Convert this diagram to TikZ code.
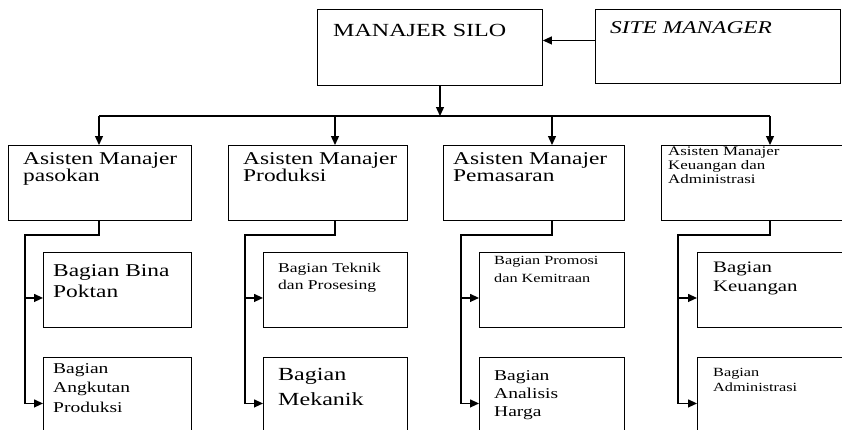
\documentclass[tikz,border=0pt]{standalone}
\usepackage{fontspec}
\setmainfont{Liberation Serif}[FakeStretch=1.3]
\usetikzlibrary{arrows.meta}
\tikzset{
  box/.style={draw, line width=0.9pt, inner sep=0pt, anchor=north west, minimum height=75},
  txt/.style={anchor=north west, inner sep=0pt, align=left},
  line/.style={line width=1.3pt},
  arr/.style={line width=1.3pt, -{Triangle[length=9pt,width=8pt]}}
}
\newcommand{\fs}[2]{\fontsize{#1}{#2}\selectfont}
\begin{document}
\begin{tikzpicture}[x=1pt, y=-1pt]
    \useasboundingbox (0, 0) rectangle (842, 429);
    \clip (0, 0) rectangle (842, 429);

    \node [box, minimum width=225, minimum height=76] (ms) at (317, 9) {};
    \node [box, minimum width=245, minimum height=74] (sm) at (595, 9) {};
    \node [txt, font=\fs{18.5}{20}] (mst) at ([shift={(16, 15)}]ms.north west) {MANAJER SILO};
    \node [txt, font=\fs{18}{20}\itshape] (smt) at ([shift={(15, 12.5)}]sm.north west) {SITE MANAGER};

    \node [box, minimum width=183] (am1) at (8, 145) {};
    \node [box, minimum width=179] (am2) at (228, 145) {};
    \node [box, minimum width=181] (am3) at (443, 145) {};
    \node [box, minimum width=180.5] (am4) at (661, 145) {};
    \node [txt, font=\fs{18}{17}] (am1t) at ([shift={(15, 7)}]am1.north west) {Asisten Manajer\\pasokan};
    \node [txt, font=\fs{18}{17}] (am2t) at ([shift={(15, 7)}]am2.north west) {Asisten Manajer\\Produksi};
    \node [txt, font=\fs{18}{17}] (am3t) at ([shift={(10, 7)}]am3.north west) {Asisten Manajer\\Pemasaran};
    \node [txt, font=\fs{13}{14}] (am4t) at ([shift={(7, 2)}]am4.north west) {Asisten Manajer\\Keuangan dan\\Administrasi};

    \node [box, minimum width=148] (b11) at (43, 252) {};
    \node [box, minimum width=148, minimum height=90] (b12) at (43, 357) {};
    \node [box, minimum width=144] (b21) at (263, 252) {};
    \node [box, minimum width=144, minimum height=90] (b22) at (263, 357) {};
    \node [box, minimum width=145] (b31) at (479, 252) {};
    \node [box, minimum width=145, minimum height=90] (b32) at (479, 357) {};
    \node [box, minimum width=144.5] (b41) at (697, 252) {};
    \node [box, minimum width=144.5, minimum height=90] (b42) at (697, 357) {};

    \node [txt, font=\fs{18}{21}] (b11t) at ([shift={(10, 12)}]b11.north west) {Bagian Bina\\Poktan};
    \node [txt, font=\fs{15}{19.5}] (b12t) at ([shift={(10, 6)}]b12.north west) {Bagian\\Angkutan\\Produksi};
    \node [txt, font=\fs{13.5}{17}] (b21t) at ([shift={(15, 11)}]b21.north west) {Bagian Teknik\\dan Prosesing};
    \node [txt, font=\fs{18.5}{25}] (b22t) at ([shift={(15, 11.5)}]b22.north west) {Bagian\\Mekanik};
    \node [txt, font=\fs{12.5}{18}] (b31t) at ([shift={(15, 4.5)}]b31.north west) {Bagian Promosi\\dan Kemitraan};
    \node [txt, font=\fs{15}{18}] (b32t) at ([shift={(15, 13)}]b32.north west) {Bagian\\Analisis\\Harga};
    \node [txt, font=\fs{16}{19}] (b41t) at ([shift={(16, 10)}]b41.north west) {Bagian\\Keuangan};
    \node [txt, font=\fs{12.5}{15}] (b42t) at ([shift={(16, 11.5)}]b42.north west) {Bagian\\Administrasi};

    \coordinate (c0) at (440, 116);
    \coordinate (c1) at (99, 116);
    \coordinate (c2) at (335, 116);
    \coordinate (c3) at (552, 116);
    \coordinate (c4) at (770, 116);
    \coordinate (v1) at (25, 235);
    \coordinate (v2) at (245, 235);
    \coordinate (v3) at (461, 235);
    \coordinate (v4) at (678, 235);

    \draw [arr] ([yshift=6pt]sm.west) -- ([yshift=6pt]sm.west -| ms.east);
    \draw [arr] (ms.south -| c0) -- (c0);
    \draw [line] (c1) -- (c4);
    \draw [arr] (c1) -- (c1 |- am1.north);
    \draw [arr] (c2) -- (c2 |- am2.north);
    \draw [arr] (c3) -- (c3 |- am3.north);
    \draw [arr] (c4) -- (c4 |- am4.north);

    \draw [arr] (c1 |- am1.south) |- (v1) |- ([yshift=-1pt]b12.west);
    \draw [arr] ([yshift=-8pt]v1 |- b11.west) -- ([yshift=-8pt]b11.west);
    \draw [arr] (c2 |- am2.south) |- (v2) |- ([yshift=-1pt]b22.west);
    \draw [arr] ([yshift=-8pt]v2 |- b21.west) -- ([yshift=-8pt]b21.west);
    \draw [arr] (c3 |- am3.south) |- (v3) |- ([yshift=-1pt]b32.west);
    \draw [arr] ([yshift=-8pt]v3 |- b31.west) -- ([yshift=-8pt]b31.west);
    \draw [arr] (c4 |- am4.south) |- (v4) |- ([yshift=-1pt]b42.west);
    \draw [arr] ([yshift=-8pt]v4 |- b41.west) -- ([yshift=-8pt]b41.west);
  \end{tikzpicture}
\end{document}
